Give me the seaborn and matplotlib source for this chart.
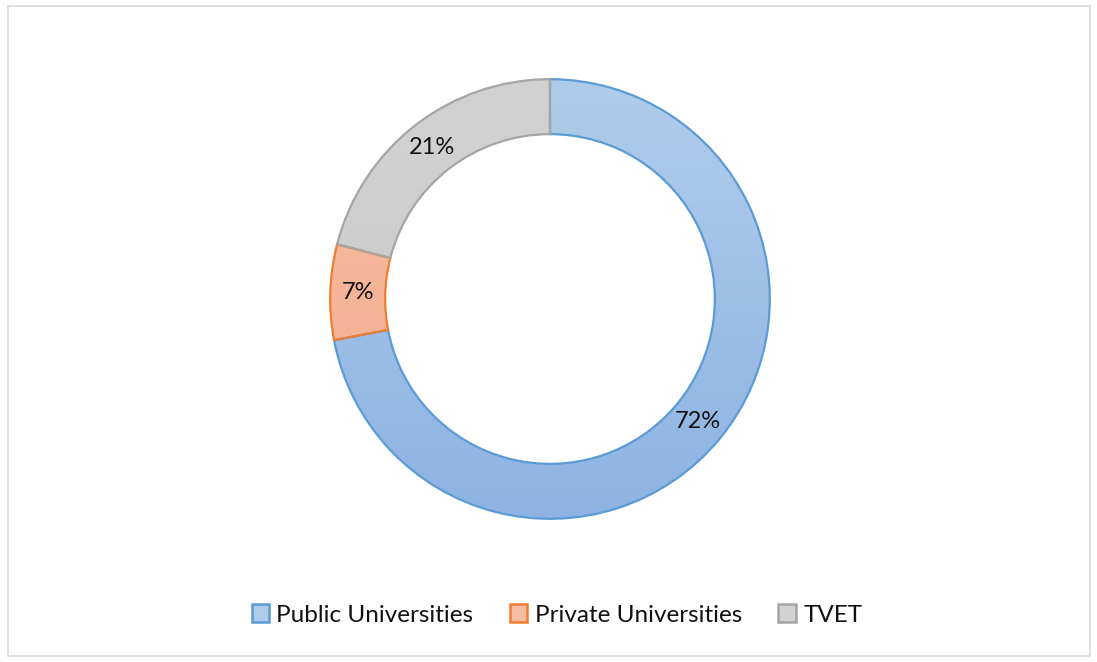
import numpy as np
import matplotlib
matplotlib.use("Agg")
import matplotlib.pyplot as plt
import matplotlib.colors as mcolors
from matplotlib.patches import Rectangle, Patch
import seaborn as sns

categories = ["Public Universities", "Private Universities", "TVET"]
shares = [72, 7, 21]
labels = ["72%", "7%", "21%"]
fill_top = ["#B0CCEB", "#F6BDA3", "#D2D2D2"]
fill_bot = ["#8DB3E2", "#F4AC8C", "#C6C6C6"]
edges = ["#5B9BD5", "#ED7D31", "#A5A5A5"]

sns.set_theme(style="white")
plt.rcParams["font.family"] = ["Lato", "DejaVu Sans"]

fig = plt.figure(figsize=(10.97, 6.62), dpi=100)
r_px = 222
ax = fig.add_axes([(550 - r_px) / 1097, 1 - (299 + r_px) / 662, 2 * r_px / 1097, 2 * r_px / 662])

wedges, _ = ax.pie(shares, startangle=90, counterclock=False, radius=1,
                   colors=fill_bot,
                   wedgeprops=dict(width=0.25, edgecolor="none"))

# vertical gradient fill clipped to each wedge (Excel-like shading)
for w, top, bot, ec in zip(wedges, fill_top, fill_bot, edges):
    cmap = mcolors.LinearSegmentedColormap.from_list("g", [bot, top])
    grad = np.linspace(0, 1, 256).reshape(-1, 1)
    im = ax.imshow(grad, cmap=cmap, extent=(-1, 1, -1, 1), origin="lower",
                   aspect="auto", zorder=2)
    im.set_clip_path(w)
    w.set_facecolor("none")
    w.set_edgecolor(ec)
    w.set_linewidth(1.6)
    w.set_zorder(3)

# labels at mid radius
ang = 90.0
for s, lab in zip(shares, labels):
    mid = np.deg2rad(ang - s / 100 * 360 / 2)
    ang -= s / 100 * 360
    ax.text(0.875 * np.cos(mid), 0.875 * np.sin(mid), lab, ha="center", va="center",
            fontsize=17, color="#111111", zorder=4)

ax.set_xlim(-1.01, 1.01)
ax.set_ylim(-1.01, 1.01)
ax.set_aspect("equal")
ax.axis("off")

handles = [Patch(facecolor=t, edgecolor=e, linewidth=1.8) for t, e in zip(fill_top, edges)]
fig.legend(handles, categories, loc="center", bbox_to_anchor=(557 / 1097, 1 - 615 / 662),
           ncol=3, frameon=False, fontsize=17.5, handlelength=0.72, handleheight=0.72,
           handletextpad=0.3, columnspacing=1.5, labelcolor="#111111")

fig.patches.append(Rectangle((8 / 1097, 6 / 662), 1082 / 1097, 650 / 662,
                             transform=fig.transFigure, fill=False,
                             edgecolor="#D9D9D9", linewidth=1.2))

fig.savefig("out.png", dpi=100, facecolor="white")
